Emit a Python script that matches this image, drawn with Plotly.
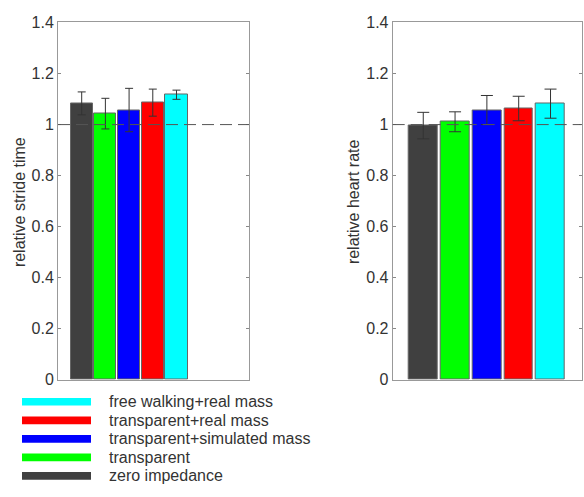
import plotly.graph_objects as go

# ---- data ----
conditions = ["zero impedance", "transparent", "transparent+simulated mass",
              "transparent+real mass", "free walking+real mass"]
colors = ["#404040", "#00ff00", "#0000ff", "#ff0000", "#00ffff"]
positions = [1, 2, 3, 4, 5]

stride_time = [1.083, 1.043, 1.057, 1.086, 1.117]
stride_err = [0.045, 0.060, 0.085, 0.053, 0.018]

heart_rate = [0.996, 1.011, 1.057, 1.063, 1.082]
heart_err = [0.052, 0.039, 0.057, 0.048, 0.057]

yticks = [0, 0.2, 0.4, 0.6, 0.8, 1.0, 1.2, 1.4]
yticklabels = ["0", "0.2", "0.4", "0.6", "0.8", "1", "1.2", "1.4"]

W, H = 584, 497
def px(x):
    return x / W
def py(y):
    return 1 - y / H

fig = go.Figure()

fig.add_trace(go.Bar(
    x=positions, y=stride_time, width=0.93,
    marker=dict(color=colors, line=dict(color="#666666", width=1)),
    error_y=dict(type="data", array=stride_err, color="#333333", thickness=1, width=4),
    xaxis="x", yaxis="y", showlegend=False))

fig.add_trace(go.Bar(
    x=positions, y=heart_rate, width=0.91,
    marker=dict(color=colors, line=dict(color="#666666", width=1)),
    error_y=dict(type="data", array=heart_err, color="#333333", thickness=1, width=6),
    xaxis="x2", yaxis="y2", showlegend=False))

FAM = "Arial, Liberation Sans, sans-serif"
font_tick = dict(family=FAM, size=16, color="#333333")
yax_common = dict(range=[0, 1.4], tickvals=yticks, ticktext=yticklabels,
                  ticks="inside", ticklen=3, tickcolor="#888888",
                  showline=True, linecolor="#999999", linewidth=1, mirror="ticks",
                  showgrid=False, zeroline=False, tickfont=font_tick,
                  domain=[py(385), py(15)])
xax_common = dict(showticklabels=False, ticks="", showline=True, linecolor="#999999",
                  linewidth=1, mirror=True, showgrid=False, zeroline=False)

fig.update_layout(
    width=W, height=H,
    margin=dict(l=0, r=0, t=0, b=0),
    paper_bgcolor="white", plot_bgcolor="white",
    bargap=0,
    xaxis=dict(xax_common, range=[0, 8.06], domain=[px(58), px(249)]),
    yaxis=dict(yax_common, anchor="x"),
    xaxis2=dict(xax_common, range=[0.04, 5.98], domain=[px(392.7), px(581.7)], anchor="y2"),
    yaxis2=dict(yax_common, anchor="x2"),
)

# reference lines at 1
for xr, yr in [("x domain", "y"), ("x2 domain", "y2")]:
    fig.add_shape(type="line", xref=xr, yref=yr, x0=0, x1=1, y0=1, y1=1,
                  line=dict(color="#555555", width=1, dash="12px,6px"), layer="above")

font_title = dict(family=FAM, size=16, color="#333333")
fig.add_annotation(text="relative stride time", x=px(19), y=py(201), xref="paper", yref="paper",
                   textangle=-90, showarrow=False, font=font_title, xanchor="center", yanchor="middle")
fig.add_annotation(text="relative heart rate", x=px(353), y=py(201), xref="paper", yref="paper",
                   textangle=-90, showarrow=False, font=font_title, xanchor="center", yanchor="middle")

# manual legend (reversed order, cyan on top)
row_y = [484.5, 465.3, 446.1, 426.9, 407.7]
font_leg = dict(family=FAM, size=16, color="#333333")
for name, col, yy in zip(conditions, colors, row_y):
    fig.add_shape(type="rect", xref="paper", yref="paper",
                  x0=px(22), x1=px(91), y0=py(yy + 4), y1=py(yy - 4),
                  fillcolor=col, line=dict(width=0))
    fig.add_annotation(text=name, x=px(107), y=py(yy), xref="paper", yref="paper",
                       showarrow=False, xanchor="left", yanchor="middle", font=font_leg)

fig.write_html("out.html")
